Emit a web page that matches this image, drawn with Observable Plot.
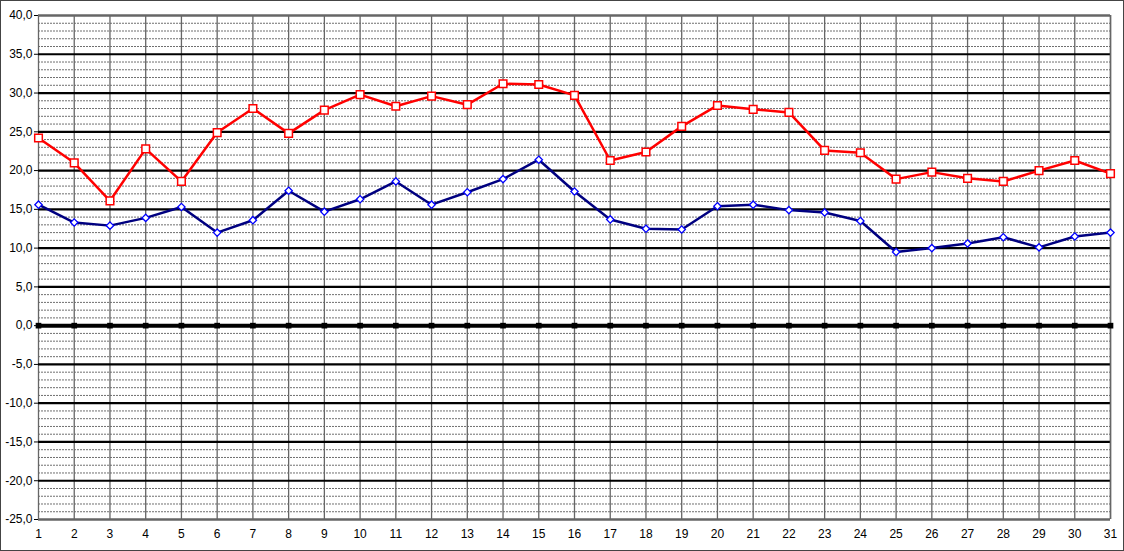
<!DOCTYPE html>
<html>
<head>
<meta charset="utf-8">
<script src="https://cdn.jsdelivr.net/npm/d3@7"></script>
<script src="https://cdn.jsdelivr.net/npm/@observablehq/plot@0.6"></script>
<style>
  html, body { margin: 0; padding: 0; background: #fff; }
  #wrap { position: relative; width: 1124px; height: 551px; overflow: hidden; }
  #border { position: absolute; left: 0; top: 0; width: 1124px; height: 551px; box-sizing: border-box; border: 1px solid #444; pointer-events: none; }
</style>
</head>
<body>
<div id="wrap"><div id="border"></div></div>
<script>
const days = d3.range(1, 32);
const maxTemps = [24.2, 21.0, 16.1, 22.8, 18.6, 24.9, 28.0, 24.8, 27.8, 29.8, 28.3, 29.6, 28.5, 31.2, 31.1, 29.7, 21.3, 22.4, 25.7, 28.4, 27.9, 27.5, 22.6, 22.3, 18.9, 19.8, 19.0, 18.6, 20.0, 21.3, 19.6];
const minTemps = [15.6, 13.3, 12.9, 13.9, 15.3, 12.0, 13.6, 17.4, 14.7, 16.3, 18.6, 15.6, 17.2, 18.9, 21.4, 17.3, 13.7, 12.5, 12.4, 15.4, 15.6, 14.9, 14.6, 13.5, 9.5, 10.0, 10.6, 11.4, 10.1, 11.5, 12.0];
const zeroLine = days.map(() => 0);
const yTicks = [-25, -20, -15, -10, -5, 0, 5, 10, 15, 20, 25, 30, 35, 40];
const yMinor = d3.range(-25, 41).filter(v => v % 5 !== 0);
const yMajor = [-20, -15, -10, -5, 5, 10, 15, 20, 25, 30, 35];

const maxData = days.map((d, i) => ({day: d, value: maxTemps[i]}));
const minData = days.map((d, i) => ({day: d, value: minTemps[i]}));
const zeroData = days.map((d, i) => ({day: d, value: zeroLine[i]}));

const fmt = v => v.toFixed(1).replace(".", ",");

const chart = Plot.plot({
  width: 1124,
  height: 551,
  marginLeft: 38,
  marginRight: 14,
  marginTop: 15,
  marginBottom: 32,
  style: {fontFamily: "'Liberation Sans', Arial, sans-serif", fontSize: "12px", color: "#000", background: "transparent"},
  x: {domain: [1, 31], ticks: days, tickFormat: d => String(d), tickSize: 0, tickPadding: 10, label: null},
  y: {domain: [-25, 40], ticks: yTicks, tickFormat: fmt, tickSize: 4, tickPadding: 2, label: null},
  marks: [
    Plot.ruleY(yMinor, {stroke: "#6f6f6f", strokeWidth: 1, strokeDasharray: "2,1"}),
    Plot.ruleX(days, {stroke: "#666", strokeWidth: 1.3}),
    Plot.ruleY(yMajor, {stroke: "#000", strokeWidth: 2.2}),
    Plot.ruleY([40, -25], {stroke: "#666", strokeWidth: 2.5}),
    Plot.ruleX([31], {stroke: "#666", strokeWidth: 1.5}),
    Plot.line(zeroData, {x: "day", y: "value", stroke: "#000", strokeWidth: 4}),
    Plot.dot(zeroData, {x: "day", y: "value", symbol: "square", r: 3.2, fill: "#000", stroke: "none"}),
    Plot.line(minData, {x: "day", y: "value", stroke: "#000080", strokeWidth: 2.5}),
    Plot.dot(minData, {x: "day", y: "value", symbol: "diamond2", r: 3.3, fill: "#fff", stroke: "#0000ff", strokeWidth: 1.3}),
    Plot.line(maxData, {x: "day", y: "value", stroke: "#ff0000", strokeWidth: 2.5}),
    Plot.dot(maxData, {x: "day", y: "value", symbol: "square", r: 4.3, fill: "#fff", stroke: "#ff0000", strokeWidth: 1.5})
  ]
});
document.getElementById("wrap").prepend(chart);
</script>
</body>
</html>
